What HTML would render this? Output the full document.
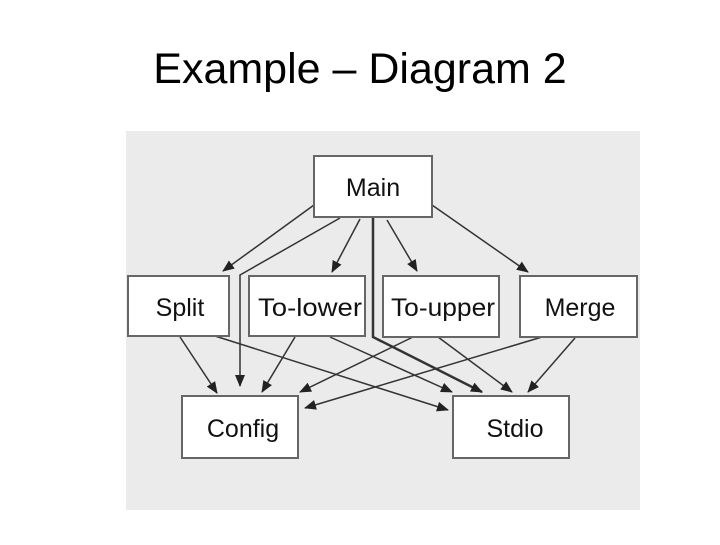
<!DOCTYPE html>
<html><head><style>
body{margin:0;width:720px;height:540px;background:#fff;overflow:hidden;font-family:"Liberation Sans",Arial,sans-serif}
</style></head><body>
<svg width="720" height="540" xmlns="http://www.w3.org/2000/svg" font-family="Liberation Sans, Arial, sans-serif">
<defs><marker id="a" markerWidth="12" markerHeight="10" refX="11" refY="5" orient="auto" markerUnits="userSpaceOnUse"><path d="M0,0 L12,5 L0,10 z" fill="#222"/></marker></defs>
<text x="360" y="83" font-size="43" text-anchor="middle" fill="#000">Example – Diagram 2</text>
<rect x="126" y="131" width="514" height="379" fill="#ebebeb"/>
<g stroke="#333" stroke-width="1.5" fill="none" marker-end="url(#a)">
<line x1="314" y1="205" x2="223" y2="271"/>
<polyline points="340,218 240,275 240,386"/>
<line x1="360" y1="219" x2="332" y2="272"/>
<polyline points="373,218 373,337 482,392" stroke-width="2.5"/>
<line x1="387" y1="220" x2="417" y2="271"/>
<line x1="432" y1="205" x2="528" y2="272"/>
<line x1="180" y1="337" x2="217" y2="393"/>
<line x1="215" y1="336" x2="448" y2="410"/>
<line x1="295" y1="337" x2="262" y2="392"/>
<line x1="330" y1="337" x2="452" y2="392"/>
<line x1="413" y1="337" x2="300" y2="392"/>
<line x1="438" y1="337" x2="512" y2="392"/>
<line x1="542" y1="337" x2="305" y2="408"/>
<line x1="575" y1="338" x2="528" y2="392"/>
</g>
<g fill="#fff" stroke="#666" stroke-width="2">
<rect x="314" y="156" width="118" height="61"/>
<rect x="128" y="276" width="101" height="60"/>
<rect x="249" y="276" width="116" height="60"/>
<rect x="383" y="276" width="116" height="61"/>
<rect x="520" y="276" width="117" height="61"/>
<rect x="182" y="396" width="116" height="62"/>
<rect x="453" y="396" width="116" height="62"/>
</g>
<g font-size="25" fill="#111" text-anchor="middle">
<text x="373" y="196">Main</text>
<text x="180" y="316">Split</text>
<text x="310" y="316" textLength="104" lengthAdjust="spacingAndGlyphs">To-lower</text>
<text x="443" y="316" textLength="104" lengthAdjust="spacingAndGlyphs">To-upper</text>
<text x="580" y="316">Merge</text>
<text x="243" y="437">Config</text>
<text x="515" y="437">Stdio</text>
</g>
</svg>
</body></html>
